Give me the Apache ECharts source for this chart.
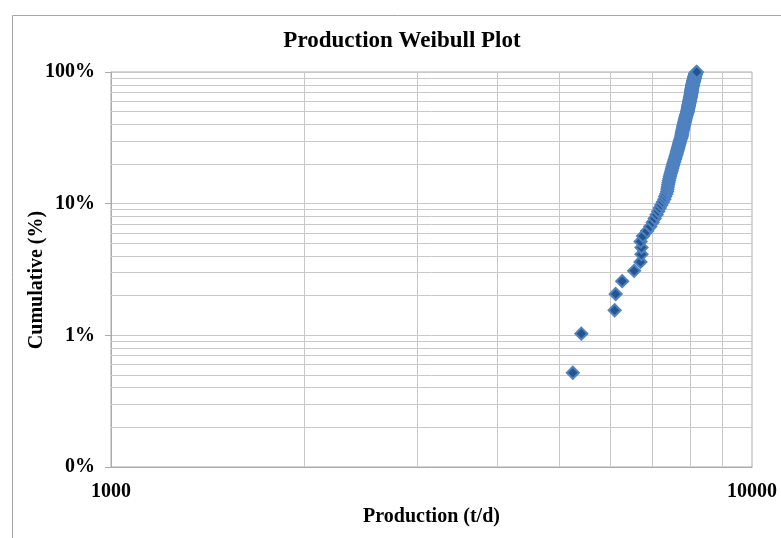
<!DOCTYPE html>
<html><head><meta charset="utf-8">
<script src="https://cdn.jsdelivr.net/npm/echarts@6/dist/echarts.min.js"></script>
<style>html,body{margin:0;padding:0;background:#fff}#c{width:781px;height:538px}</style>
</head><body><div id="c"></div>
<script>
// Production (t/d), sorted ascending
const production = [
 5254,5417,6106,6128,6273,6548,6699,6724,6724,6702,6760,6860,6940,7000,7050,7100,7140,7180,7220,7260,7300,7320,7350,
 7372,7380,7390,7398,7410,7420,7432,7445,7455,7470,7485,
 7495,7505,7518,7530,7540,7552,7565,7575,7588,7598,7610,7621,
 7630,7640,7648,7656,7665,7672,7680,7690,7698,7705,7712,7720,7728,7738,7748,7758,
 7762,7765,7771,7776,7776,7785,7790,7794,7800,7806,7806,7812,7818,7822,7830,7833,7838,7845,7848,7852,7860,7862,7866,7874,7877,7881,7888,7890,7897,7902,7908,7915,7925,
 7928,7930,7935,7937,7940,7944,7946,7950,7952,7955,7960,7962,7965,7968,7970,7974,7976,7980,7983,7985,7990,7992,7995,7998,8000,8004,8006,8010,8012,8015,8018,8021,8025,
 8026,8028,8030,8032,8034,8036,8038,8040,8042,8044,8046,8048,8050,8052,8054,8056,8058,8060,8062,8064,8066,8068,8070,8072,8074,8076,8078,8080,8083,8086,8089,8092,8095,8097,
 8100,8103,8106,8108,8110,8113,8115,8118,8120,8122,8125,8127,8130,8132,8135,8137,8140,8142,8145,8148,8150,8153,8155,8158,8160,8163,8166,8170,8175,8180,8190,8201
];
// Cumulative (%)
const cumulative = [
 0.52,1.03,1.55,2.06,2.58,3.09,3.61,4.12,4.64,5.15,5.67,6.19,6.70,7.22,7.73,8.25,8.76,9.28,9.79,10.31,
 10.82,11.34,11.86,12.37,12.89,13.40,13.92,14.43,14.95,15.46,15.98,16.49,17.01,17.53,18.04,18.56,19.07,19.59,20.10,20.62,
 21.13,21.65,22.16,22.68,23.20,23.71,24.23,24.74,25.26,25.77,26.29,26.80,27.32,27.84,28.35,28.87,29.38,29.90,30.41,30.93,
 31.44,31.96,32.47,32.99,33.51,34.02,34.54,35.05,35.57,36.08,36.60,37.11,37.63,38.14,38.66,39.18,39.69,40.21,40.72,41.24,
 41.75,42.27,42.78,43.30,43.81,44.33,44.85,45.36,45.88,46.39,46.91,47.42,47.94,48.45,48.97,49.48,50.00,50.52,51.03,51.55,
 52.06,52.58,53.09,53.61,54.12,54.64,55.15,55.67,56.19,56.70,57.22,57.73,58.25,58.76,59.28,59.79,60.31,60.82,61.34,61.86,
 62.37,62.89,63.40,63.92,64.43,64.95,65.46,65.98,66.49,67.01,67.53,68.04,68.56,69.07,69.59,70.10,70.62,71.13,71.65,72.16,
 72.68,73.20,73.71,74.23,74.74,75.26,75.77,76.29,76.80,77.32,77.84,78.35,78.87,79.38,79.90,80.41,80.93,81.44,81.96,82.47,
 82.99,83.51,84.02,84.54,85.05,85.57,86.08,86.60,87.11,87.63,88.14,88.66,89.18,89.69,90.21,90.72,91.24,91.75,92.27,92.78,
 93.30,93.81,94.33,94.85,95.36,95.88,96.39,96.91,97.42,97.94,98.45,98.97,99.48,100.00
];
const xTicks = [1000, 10000];
const yTickLabels = { 0.1: '0%', 1: '1%', 10: '10%', 100: '100%' };
const xGridLines = [2000, 3000, 4000, 5000, 6000, 7000, 8000, 9000];
const yGridLines = [0.2,0.3,0.4,0.5,0.6,0.7,0.8,0.9, 2,3,4,5,6,7,8,9, 20,30,40,50,60,70,80,90];

const FONT = '"Liberation Serif", "Times New Roman", serif';
const points = production.map((p, i) => [p, cumulative[i]]);
const chart = echarts.init(document.getElementById('c'), null, { renderer: 'canvas' });

chart.setOption({
  animation: false,
  backgroundColor: '#ffffff',
  grid: { left: 111, right: 29, top: 72, bottom: 71, show: true, borderColor: '#ABABAB', borderWidth: 1, backgroundColor: 'transparent' },
  graphic: [
    { type: 'rect', left: 10, top: 13, shape: { width: 800, height: 600 }, style: { fill: 'none', stroke: '#A6A6A6', lineWidth: 1 }, silent: true, z: -10 },
    { type: 'text', x: 402, y: 41, style: { text: 'Production Weibull Plot', font: 'bold 23px ' + FONT, fill: '#000', textAlign: 'center', textVerticalAlign: 'middle' } },
    { type: 'text', x: 37, y: 280, rotation: Math.PI / 2, style: { text: 'Cumulative (%)', font: 'bold 20px ' + FONT, fill: '#000', textAlign: 'center', textVerticalAlign: 'middle' } }
  ],
  xAxis: {
    type: 'log', logBase: 10, min: xTicks[0], max: xTicks[1],
    axisLine: { show: true, lineStyle: { color: '#ABABAB', width: 1 } },
    axisTick: { show: false },
    splitLine: { show: false },
    axisLabel: { margin: 15, color: '#000', fontFamily: FONT, fontWeight: 'bold', fontSize: 20, formatter: v => String(Math.round(v)) },
    name: 'Production (t/d)', nameLocation: 'middle', nameGap: 39,
    nameTextStyle: { color: '#000', fontFamily: FONT, fontWeight: 'bold', fontSize: 20 }
  },
  yAxis: {
    type: 'log', logBase: 10, min: 0.1, max: 100,
    axisLine: { show: true, lineStyle: { color: '#ABABAB', width: 1 } },
    axisTick: { show: true, length: 6, lineStyle: { color: '#ABABAB' } },
    splitLine: { show: true, lineStyle: { color: '#C9C9C9', width: 1 } },
    axisLabel: { margin: 16, color: '#000', fontFamily: FONT, fontWeight: 'bold', fontSize: 20,
      formatter: v => { const k = Object.keys(yTickLabels).find(t => Math.abs(+t - v) < 1e-6 * Math.max(1, v)); return k !== undefined ? yTickLabels[k] : ''; } }
  },
  series: [
    {
      type: 'line', data: [], silent: true, z: 1,
      markLine: {
        silent: true, symbol: 'none', label: { show: false }, animation: false,
        lineStyle: { color: '#C9C9C9', width: 1, type: 'solid' },
        emphasis: { disabled: true },
        data: yGridLines.map(v => ({ yAxis: v })).concat(xGridLines.map(v => ({ xAxis: v })))
      }
    },
    {
      type: 'scatter', data: points, z: 5,
      symbol: 'diamond', symbolSize: 12,
      itemStyle: { color: '#24558F', borderColor: '#4F82C0', borderWidth: 2, opacity: 1 }
    }
  ]
});
</script>
</body></html>
